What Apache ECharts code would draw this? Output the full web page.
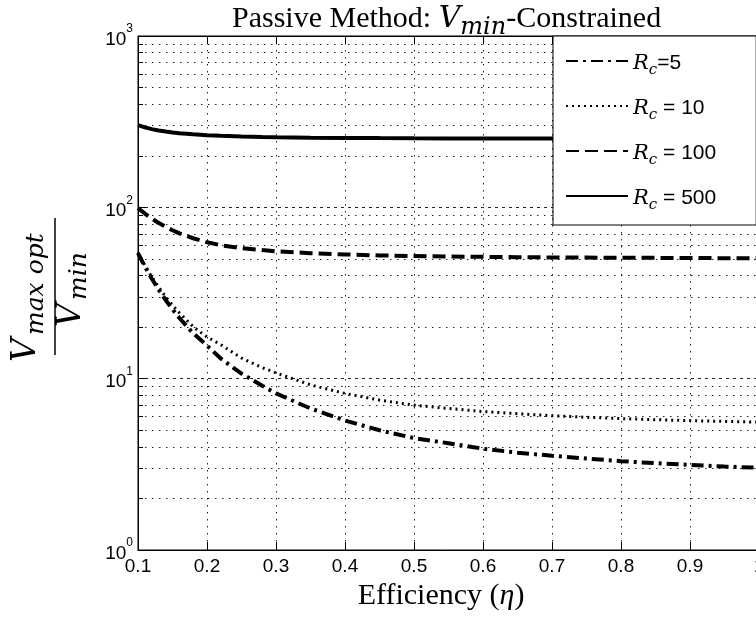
<!DOCTYPE html>
<html>
<head>
<meta charset="utf-8">
<script src="https://cdn.jsdelivr.net/npm/echarts@6/dist/echarts.min.js"></script>
<style>
html,body{margin:0;padding:0;background:#fff;}
#chart{width:756px;height:620px;}
</style>
</head>
<body>
<div id="chart"></div>
<script>
// ---- data ----
const eta = [0.1,0.11,0.12,0.13,0.14,0.15,0.16,0.18,0.2,0.22,0.25,0.28,0.3,0.35,0.4,0.45,0.5,0.55,0.6,0.65,0.7,0.75,0.8,0.85,0.9,0.95,1.0];
const rc5 = [54,45.1,38.3,33.0,28.8,25.4,22.6,18.4,15.6,13.1,10.7,9.1,8.2,6.7,5.7,5.0,4.5,4.2,3.9,3.7,3.55,3.42,3.3,3.21,3.14,3.07,3.02];
const rc10 = [54.5,45.8,39.2,34.2,30.1,26.8,24.2,20.1,17.5,15.8,13.2,11.6,10.8,9.2,8.2,7.5,7.0,6.7,6.43,6.24,6.08,5.95,5.85,5.76,5.69,5.63,5.58];
const rc100 = [99,92,86,81,77,73.5,70.5,66,62.5,60.1,57.8,56.3,55.4,54.0,53.1,52.4,52.0,51.6,51.4,51.2,51.0,50.9,50.8,50.7,50.6,50.5,50.5];
const rc500 = [302,293,286,281,277,273.5,271,267,263.7,261.5,259.1,257.5,256.6,255.1,254.2,253.5,253,252.6,252.4,252.2,252,251.9,251.8,251.7,251.6,251.5,251.5];
const seriesNames = ['Rc=5','Rc=10','Rc=100','Rc=500'];
const legendLabels = {
  'Rc=5': '{R|R}{c|c}{t|=5}',
  'Rc=10': '{R|R}{c|c}{t| = 10}',
  'Rc=100': '{R|R}{c|c}{t| = 100}',
  'Rc=500': '{R|R}{c|c}{t| = 500}'
};
const xTicks = {min: 0.1, max: 1, interval: 0.1};
const yTicks = {min: 1, max: 1000};

const pair = arr => eta.map((x, i) => [x, arr[i]]);
const mathFont = 'DejaVu Serif';

const chart = echarts.init(document.getElementById('chart'), null, {renderer: 'canvas'});
const baseLine = {color: '#000'};
const gridDots = {color: '#222', width: 1, type: [1.5, 5.5]};

chart.setOption({
  animation: false,
  backgroundColor: '#fff',
  title: {
    text: 'Passive Method: {V|V}{s|min}{t|-Constrained}',
    left: 227, top: -1,
    textStyle: {
      fontFamily: 'Liberation Serif', fontSize: 30, fontWeight: 'normal', color: '#000',
      rich: {
        V: {fontFamily: mathFont, fontStyle: 'italic', fontSize: 30, lineHeight: 30, verticalAlign: 'top', color: '#000'},
        s: {fontFamily: mathFont, fontStyle: 'italic', fontSize: 24, lineHeight: 24, padding: [12, 0, 0, 0], verticalAlign: 'top', color: '#000'},
        t: {fontFamily: 'Liberation Serif', fontSize: 30, lineHeight: 30, verticalAlign: 'top', color: '#000'}
      }
    }
  },
  grid: {left: 138, top: 36, width: 621, height: 514, outerBoundsMode: 'none', containLabel: false,
    show: true, borderColor: '#000', borderWidth: 1, backgroundColor: 'transparent'},
  legend: {
    orient: 'vertical', left: 553, top: 36,
    padding: [12, 40, 12, 12],
    itemWidth: 62, itemHeight: 14, itemGap: 15,
    backgroundColor: '#fff', borderColor: '#000', borderWidth: 1, borderRadius: 0,
    data: seriesNames,
    itemStyle: {opacity: 0},
    formatter: name => legendLabels[name],
    textStyle: {
      color: '#000',
      rich: {
        R: {fontFamily: mathFont, fontStyle: 'italic', fontSize: 21, lineHeight: 26, padding: [5, 0, 0, 0], verticalAlign: 'top', color: '#000'},
        c: {fontFamily: mathFont, fontStyle: 'italic', fontSize: 15, lineHeight: 15, padding: [15, 0, 0, 0], verticalAlign: 'top', color: '#000'},
        t: {fontFamily: 'Liberation Sans', fontSize: 21, lineHeight: 26, padding: [5, 0, 0, 0], verticalAlign: 'top', color: '#000'}
      }
    }
  },
  xAxis: [{
    type: 'value', min: xTicks.min, max: xTicks.max, interval: xTicks.interval,
    name: 'Efficiency ({e|η})', nameLocation: 'middle', nameGap: 27,
    nameTextStyle: {fontFamily: 'Liberation Serif', fontSize: 30, color: '#000', padding: [0, 15, 0, 0],
      rich: {e: {fontFamily: 'Liberation Serif', fontStyle: 'italic', fontSize: 30, color: '#000'}}},
    axisLine: {show: true, lineStyle: {color: '#000', width: 1}},
    axisTick: {show: true, inside: true, length: 8, lineStyle: baseLine},
    axisLabel: {fontFamily: 'Liberation Sans', fontSize: 19, color: '#000', margin: 7,
      formatter: v => (Math.abs(v - 1) < 1e-9 ? '1' : v.toFixed(1))},
    splitLine: {show: true, lineStyle: gridDots}
  }, {
    type: 'value', position: 'top', min: xTicks.min, max: xTicks.max, interval: xTicks.interval,
    axisLine: {show: true, lineStyle: {color: '#000', width: 1}},
    axisTick: {show: true, inside: true, length: 8, lineStyle: baseLine},
    axisLabel: {show: false}, splitLine: {show: false}
  }],
  yAxis: {
    type: 'log', logBase: 10, min: yTicks.min, max: yTicks.max,
    axisLine: {show: true, lineStyle: {color: '#000', width: 1}},
    axisTick: {show: true, inside: true, length: 8, lineStyle: baseLine},
    minorTick: {show: true, splitNumber: 9, length: 5, lineStyle: {color: '#000'}},
    axisLabel: {
      margin: 5,
      formatter: v => '{b|10}{s|' + Math.round(Math.log10(v)) + '}',
      rich: {
        b: {fontFamily: 'Liberation Sans', fontSize: 19, lineHeight: 26, verticalAlign: 'bottom', color: '#000'},
        s: {fontFamily: 'Liberation Sans', fontSize: 12, lineHeight: 12, verticalAlign: 'top', color: '#000'}
      }
    },
    splitLine: {show: true, lineStyle: {color: '#222', width: 1, type: [3, 4]}},
    minorSplitLine: {show: true, lineStyle: gridDots}
  },
  series: [
    {name: 'Rc=5', type: 'line', data: pair(rc5), symbol: 'none', lineStyle: {color: '#000', width: 4, type: [12, 5, 3, 5]}, itemStyle: {color: '#000'}},
    {name: 'Rc=10', type: 'line', data: pair(rc10), symbol: 'none', lineStyle: {color: '#000', width: 3, type: [2, 4]}, itemStyle: {color: '#000'}},
    {name: 'Rc=100', type: 'line', data: pair(rc100), symbol: 'none', lineStyle: {color: '#000', width: 4, type: [13, 6]}, itemStyle: {color: '#000'}},
    {name: 'Rc=500', type: 'line', data: pair(rc500), symbol: 'none', lineStyle: {color: '#000', width: 4}, itemStyle: {color: '#000'}}
  ],
  graphic: [{
    type: 'group', x: 55, y: 287, rotation: Math.PI / 2,
    children: [
      {type: 'line', shape: {x1: -68, y1: 0, x2: 69, y2: 0}, style: {stroke: '#000', lineWidth: 1.5}},
      {type: 'text', x: -75, y: -29, style: {text: 'V', fontFamily: mathFont, fontStyle: 'italic', fontSize: 33, fill: '#000', textAlign: 'left', textVerticalAlign: 'middle'}},
      {type: 'text', x: -48, y: -18.5, style: {text: 'max opt', fontFamily: mathFont, fontStyle: 'italic', fontSize: 25, fill: '#000', textAlign: 'left', textVerticalAlign: 'middle'}},
      {type: 'text', x: -40, y: 16, style: {text: 'V', fontFamily: mathFont, fontStyle: 'italic', fontSize: 33, fill: '#000', textAlign: 'left', textVerticalAlign: 'middle'}},
      {type: 'text', x: -13, y: 24, style: {text: 'min', fontFamily: mathFont, fontStyle: 'italic', fontSize: 25, fill: '#000', textAlign: 'left', textVerticalAlign: 'middle'}}
    ]
  }]
});
</script>
</body>
</html>
